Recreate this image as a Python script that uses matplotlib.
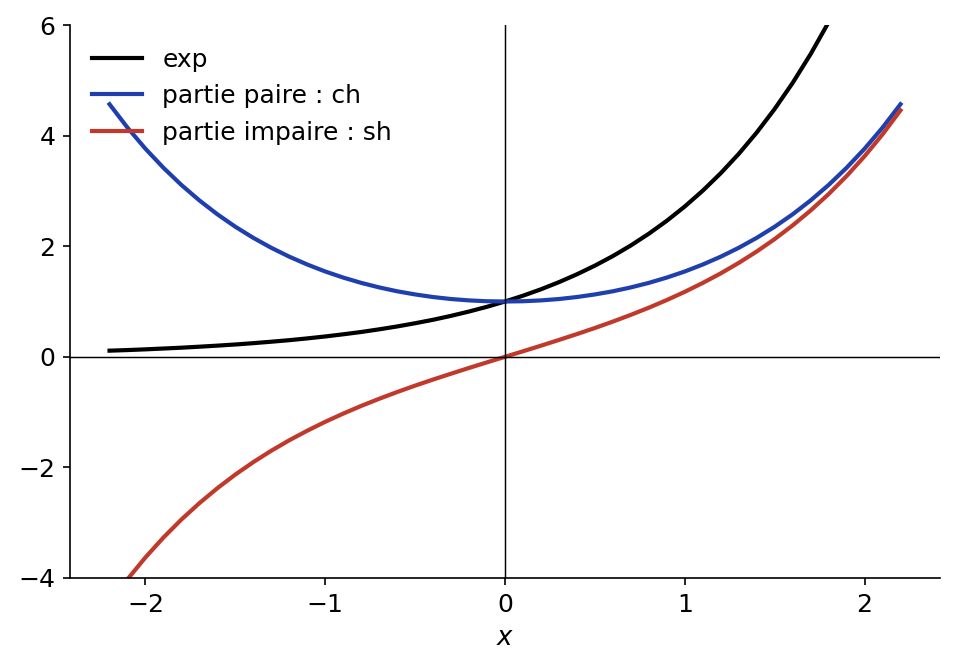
import numpy as np
import matplotlib
matplotlib.use("Agg")
from matplotlib import pyplot as plt

# valeurs relevées sur la figure, pas de 0.1
x = [-2.2, -2.1, -2.0, -1.9, -1.8, -1.7, -1.6, -1.5, -1.4, -1.3, -1.2, -1.1,
     -1.0, -0.9, -0.8, -0.7, -0.6, -0.5, -0.4, -0.3, -0.2, -0.1, 0.0,
     0.1, 0.2, 0.3, 0.4, 0.5, 0.6, 0.7, 0.8, 0.9, 1.0, 1.1, 1.2, 1.3,
     1.4, 1.5, 1.6, 1.7, 1.8, 1.9, 2.0, 2.1, 2.2]

y_exp = [0.111, 0.122, 0.135, 0.150, 0.165, 0.183, 0.202, 0.223, 0.247, 0.273,
         0.301, 0.333, 0.368, 0.407, 0.449, 0.497, 0.549, 0.607, 0.670, 0.741,
         0.819, 0.905, 1.000, 1.105, 1.221, 1.350, 1.492, 1.649, 1.822, 2.014,
         2.226, 2.460, 2.718, 3.004, 3.320, 3.669, 4.055, 4.482, 4.953, 5.474,
         6.050, 6.686, 7.389, 8.166, 9.025]

y_ch = [4.568, 4.144, 3.762, 3.418, 3.107, 2.828, 2.577, 2.352, 2.151, 1.971,
        1.811, 1.669, 1.543, 1.433, 1.337, 1.255, 1.185, 1.128, 1.081, 1.045,
        1.020, 1.005, 1.000, 1.005, 1.020, 1.045, 1.081, 1.128, 1.185, 1.255,
        1.337, 1.433, 1.543, 1.669, 1.811, 1.971, 2.151, 2.352, 2.577, 2.828,
        3.107, 3.418, 3.762, 4.144, 4.568]

y_sh = [-4.457, -4.022, -3.627, -3.268, -2.942, -2.646, -2.376, -2.129, -1.904,
        -1.698, -1.509, -1.336, -1.175, -1.027, -0.888, -0.759, -0.637, -0.521,
        -0.411, -0.305, -0.201, -0.100, 0.000, 0.100, 0.201, 0.305, 0.411,
        0.521, 0.637, 0.759, 0.888, 1.027, 1.175, 1.336, 1.509, 1.698, 1.904,
        2.129, 2.376, 2.646, 2.942, 3.268, 3.627, 4.022, 4.457]

labels = ["exp", "partie paire : ch", "partie impaire : sh"]
colors = ["#000000", "#1f3fae", "#c0392b"]

fig, ax = plt.subplots(figsize=(956 / 150, 671 / 150), dpi=150)
fig.subplots_adjust(left=0.0732, right=0.9833, top=0.9627, bottom=0.1386)

for y, lab, c in zip([y_exp, y_ch, y_sh], labels, colors):
    ax.plot(x, y, color=c, lw=2, label=lab)

ax.axhline(0, color="black", lw=0.7)
ax.axvline(0, color="black", lw=0.7)

ax.set_ylim(-4, 6)
ax.set_xlabel("$x$", fontsize=12.5)
ax.tick_params(labelsize=12)
ax.spines["top"].set_visible(False)
ax.spines["right"].set_visible(False)
ax.legend(frameon=False, fontsize=12, loc="upper left")

fig.savefig("out.png", dpi=150)
